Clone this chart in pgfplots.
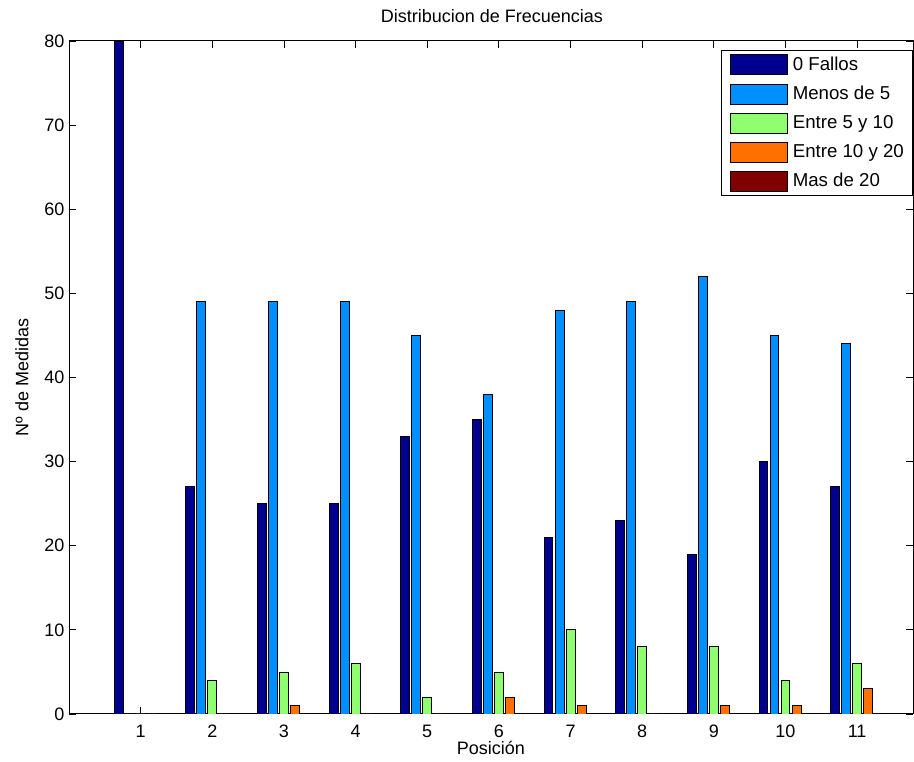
\documentclass[border=0pt]{standalone}
\usepackage{fontspec}
\setmainfont{Liberation Sans}
\usepackage{pgfplots}
\pgfplotsset{compat=1.18}
\definecolor{c1}{rgb}{0,0,0.5625}
\definecolor{c2}{rgb}{0,0.5625,1}
\definecolor{c3}{rgb}{0.5625,1,0.4375}
\definecolor{c4}{rgb}{1,0.4375,0}
\definecolor{c5}{rgb}{0.5,0,0}
\begin{document}
\begin{tikzpicture}
\begin{axis}[
  name=ax,
  scale only axis,
  width=633pt, height=504.75pt,
  xmin=0, xmax=11.78, ymin=0, ymax=80,
  xtick={1,2,3,4,5,6,7,8,9,10,11},
  ytick={0,10,20,30,40,50,60,70,80},
  tick align=inside,
  major tick length=5.5pt,
  axis line style={line width=0.75pt},
  every tick/.style={black, line width=0.6pt},
  /pgf/number format/assume math mode=true,
  tick label style={font=\fontsize{13.5}{15}\selectfont},
  xticklabel style={anchor=center, yshift=-12.75pt},
  title={Distribucion de Frecuencias},
  title style={font=\fontsize{13.5}{15}\selectfont, at={(axis description cs:0.501,1.0255)}, anchor=center},
  xlabel={Posición},
  xlabel style={font=\fontsize{13.5}{15}\selectfont, at={(axis description cs:0.5,-0.0505)}, anchor=center},
  ylabel={Nº de Medidas},
  ylabel style={font=\fontsize{13.5}{15}\selectfont, at={(axis description cs:-0.0557,0.5)}, anchor=center, rotate=0},
  legend cell align=left,
  legend image code/.code={\draw[#1, line width=0.6pt] (0pt,-7.5pt) rectangle (42.75pt,7.5pt);},
  legend style={at={(axis description cs:1,1)}, anchor=north east, yshift=-6.75pt,
    font=\fontsize{14}{15}\selectfont, draw=black, line width=0.75pt,
    inner xsep=6pt, inner ysep=3pt, row sep=6.2pt, column sep=3.5pt,
    nodes={inner sep=0.5pt}},
  every axis plot/.append style={ybar, bar width=0.123, draw=black, line width=0.6pt},
]
\addplot[fill=c1, bar shift=-0.3077] coordinates {(1,80) (2,27) (3,25) (4,25) (5,33) (6,35) (7,21) (8,23) (9,19) (10,30) (11,27)};
\addplot[fill=c2, bar shift=-0.1538] coordinates {(1,0) (2,49) (3,49) (4,49) (5,45) (6,38) (7,48) (8,49) (9,52) (10,45) (11,44)};
\addplot[fill=c3, bar shift=0] coordinates {(1,0) (2,4) (3,5) (4,6) (5,2) (6,5) (7,10) (8,8) (9,8) (10,4) (11,6)};
\addplot[fill=c4, bar shift=0.1538] coordinates {(1,0) (2,0) (3,1) (4,0) (5,0) (6,2) (7,1) (8,0) (9,1) (10,1) (11,3)};
\addplot[fill=c5, bar shift=0.3077] coordinates {(1,0) (2,0) (3,0) (4,0) (5,0) (6,0) (7,0) (8,0) (9,0) (10,0) (11,0)};
\legend{0 Fallos, Menos de 5, Entre 5 y 10, Entre 10 y 20, Mas de 20}
\end{axis}
\pgfresetboundingbox
\path ([shift={(-51.75pt,-36pt)}]ax.south west) rectangle ([shift={(0.75pt,30.75pt)}]ax.north east);
\end{tikzpicture}
\end{document}
